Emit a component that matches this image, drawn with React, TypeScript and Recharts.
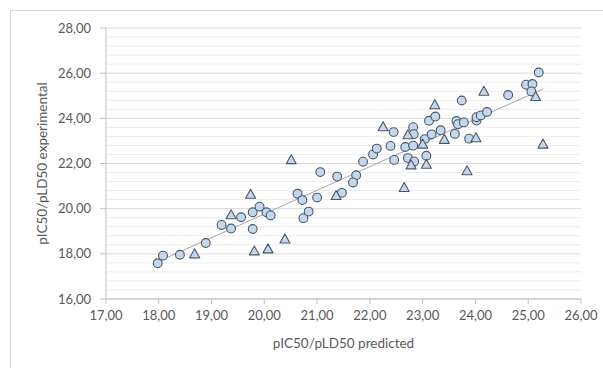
import React from "react"
import { ScatterChart, Scatter, XAxis, YAxis, CartesianGrid, ReferenceLine } from "recharts"

const circleX = [
  17.98, 18.08, 18.4, 18.89, 19.19, 19.37, 19.56, 19.78, 19.91, 19.78, 20.04, 20.12, 20.63, 20.72, 20.74,
  20.84, 21.0, 21.06, 21.38, 21.47, 21.74, 21.68, 21.87, 22.06, 22.13, 22.39, 22.45, 22.46, 22.67, 22.82,
  22.72, 22.84, 22.82, 22.83, 23.04, 23.07, 23.12, 23.24, 23.17, 23.34, 23.61, 23.64, 23.67, 23.78, 23.74,
  23.88, 24.02, 24.02, 24.1, 24.22, 24.62, 24.96, 25.08, 25.06, 25.2,
]
const circleY = [
  17.58, 17.92, 17.96, 18.48, 19.28, 19.12, 19.62, 19.84, 20.09, 19.1, 19.84, 19.7, 20.66, 20.38, 19.58,
  19.87, 20.49, 21.62, 21.42, 20.7, 21.48, 21.16, 22.08, 22.4, 22.66, 22.78, 23.39, 22.16, 22.73, 22.79,
  22.24, 22.09, 23.61, 23.3, 23.08, 22.34, 23.89, 24.08, 23.29, 23.47, 23.31, 23.88, 23.74, 23.82, 24.79,
  23.1, 23.9, 24.05, 24.13, 24.28, 25.03, 25.49, 25.52, 25.19, 26.03,
]
const triangleX = [
  18.68, 19.37, 19.74, 19.81, 20.07, 20.39, 20.51, 21.36, 22.25, 22.65, 22.72, 22.78, 23.0, 23.07, 23.23,
  23.41, 23.84, 24.01, 24.16, 25.14, 25.28,
]
const triangleY = [
  18.0, 19.73, 20.64, 18.13, 18.22, 18.66, 22.17, 20.58, 23.63, 20.94, 23.27, 21.94, 22.86, 21.97, 24.6,
  23.07, 21.68, 23.14, 25.2, 24.97, 22.86,
]
// ligne de tendance (extrémités lues)
const trendX = [17.98, 25.28]
const trendY = [17.65, 25.3]

const xTicks = [17, 18, 19, 20, 21, 22, 23, 24, 25, 26]
const yTicks = [16, 18, 20, 22, 24, 26, 28]
const yMinor = [16.4, 16.8, 17.2, 17.6, 18.4, 18.8, 19.2, 19.6, 20.4, 20.8, 21.2, 21.6, 22.4, 22.8, 23.2, 23.6,
  24.4, 24.8, 25.2, 25.6, 26.4, 26.8, 27.2, 27.6]

const circles = circleX.map((x, i) => ({ x, y: circleY[i] }))
const triangles = triangleX.map((x, i) => ({ x, y: triangleY[i] }))
const trend = trendX.map((x, i) => ({ x, y: trendY[i] }))

const fmt = (v: number) => v.toFixed(2).replace(".", ",")

const FILL = "#c3d8ef"
const STROKE = "#4b5768"

const CircleDot = ({ cx, cy }: any) => (
  <circle cx={cx} cy={cy} r={4.4} fill={FILL} stroke={STROKE} strokeWidth={1.1} />
)

const TriangleDot = ({ cx, cy }: any) => (
  <path
    d={`M${cx},${cy - 5} L${cx + 5},${cy + 4} L${cx - 5},${cy + 4} Z`}
    fill={FILL}
    stroke={STROKE}
    strokeWidth={1.1}
    strokeLinejoin="round"
  />
)

const font = "Lato, 'Open Sans', sans-serif"

export default function App() {
  return (
    <div style={{ position: "fixed", left: 0, top: 0, width: 603, height: 368, background: "#fff", overflow: "hidden" }}>
      <div
        style={{
          position: "absolute",
          left: 10,
          top: 10,
          width: 620,
          height: 380,
          border: "1px solid #d9d9d9",
        }}
      />
      <ScatterChart
        width={603}
        height={368}
        margin={{ top: 28, right: 22, left: 40, bottom: 24 }}
        style={{ position: "absolute", left: 0, top: 0, fontFamily: font }}
      >
        <CartesianGrid vertical={false} stroke="#d9d9d9" />
        {yMinor.map((v) => (
          <ReferenceLine key={v} y={v} stroke="#ececec" strokeWidth={1} ifOverflow="hidden" />
        ))}
        <XAxis
          type="number"
          dataKey="x"
          domain={[17, 26]}
          ticks={xTicks}
          tickFormatter={fmt}
          stroke="#bfbfbf"
          tickSize={5}
          tickMargin={7}
          tick={{ fill: "#595959", fontSize: 13 }}
          height={45}
          label={{ value: "pIC50/pLD50 predicted", position: "insideBottom", offset: -4, fill: "#595959", fontSize: 13.5 }}
        />
        <YAxis
          type="number"
          dataKey="y"
          domain={[16, 28]}
          ticks={yTicks}
          tickFormatter={fmt}
          stroke="#bfbfbf"
          tickSize={6}
          tickMargin={9}
          tick={{ fill: "#595959", fontSize: 13 }}
          width={66}
          label={{
            value: "pIC50/pLD50 experimental",
            angle: -90,
            position: "insideLeft",
            offset: 2,
            style: { textAnchor: "middle" },
            fill: "#595959",
            fontSize: 13.5,
          }}
        />
        <Scatter
          data={trend}
          line={{ stroke: "#a6a6a6", strokeWidth: 1 }}
          shape={() => null}
          isAnimationActive={false}
        />
        <Scatter data={circles} shape={<CircleDot />} isAnimationActive={false} />
        <Scatter data={triangles} shape={<TriangleDot />} isAnimationActive={false} />
      </ScatterChart>
    </div>
  )
}
